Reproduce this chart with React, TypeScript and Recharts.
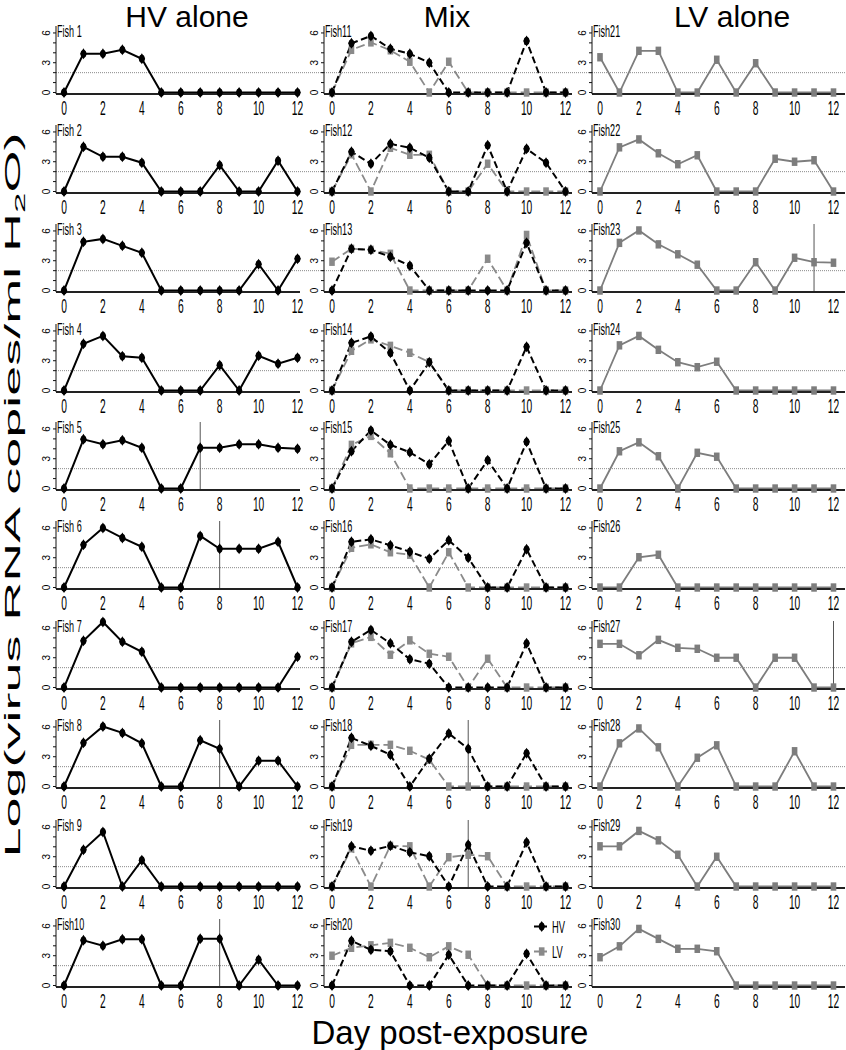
import React from 'react';
import { LineChart, Line, XAxis, YAxis, ReferenceLine, Legend } from 'recharts';

// ---------- data ----------
const DAYS = [0, 1, 2, 3, 4, 5, 6, 7, 8, 9, 10, 11, 12];
const X_TICKS = [0, 2, 4, 6, 8, 10, 12];
const Y_TICKS = [0, 1, 2, 3, 4, 5, 6];
const Y_LABELED = [0, 3, 6];
const DETECTION_LIMIT = 2;
const COLUMN_TITLES = ['HV alone', 'Mix', 'LV alone'];

const HV_NAMES = ['Fish 1', 'Fish 2', 'Fish 3', 'Fish 4', 'Fish 5', 'Fish 6', 'Fish 7', 'Fish 8', 'Fish 9', 'Fish10'];
const MIX_NAMES = ['Fish11', 'Fish12', 'Fish13', 'Fish14', 'Fish15', 'Fish16', 'Fish17', 'Fish18', 'Fish19', 'Fish20'];
const LV_NAMES = ['Fish21', 'Fish22', 'Fish23', 'Fish24', 'Fish25', 'Fish26', 'Fish27', 'Fish28', 'Fish29', 'Fish30'];

const HV_ALONE: number[][] = [
  [0, 3.9, 3.9, 4.3, 3.4, 0, 0, 0, 0, 0, 0, 0, 0],
  [0, 4.5, 3.5, 3.5, 2.9, 0, 0, 0, 2.65, 0, 0, 3.1, 0],
  [0, 4.9, 5.2, 4.5, 3.8, 0, 0, 0, 0, 0, 2.65, 0, 3.2],
  [0, 4.7, 5.5, 3.45, 3.3, 0, 0, 0, 2.55, 0, 3.5, 2.7, 3.3],
  [0, 4.95, 4.45, 4.85, 4.1, 0, 0, 4.1, 4.1, 4.45, 4.45, 4.1, 4.0],
  [0, 4.3, 6.0, 5.0, 4.1, 0, 0, 5.2, 3.9, 3.9, 3.9, 4.6, 0],
  [0, 4.7, 6.6, 4.6, 3.6, 0, 0, 0, 0, 0, 0, 0, 3.1],
  [0, 4.4, 6.05, 5.4, 4.35, 0, 0, 4.65, 3.8, 0, 2.6, 2.6, 0],
  [0, 3.7, 5.5, 0, 2.65, 0, 0, 0, 0, 0, 0, 0, 0],
  [0, 4.55, 4.0, 4.65, 4.65, 0, 0, 4.7, 4.7, 0, 2.6, 0, 0],
];

const MIX_HV: number[][] = [
  [0, 4.95, 5.7, 4.4, 3.9, 3.0, 0, 0, 0, 0, 5.2, 0, 0],
  [0, 4.0, 2.8, 4.8, 4.4, 3.4, 0, 0, 4.65, 0, 4.3, 2.9, 0],
  [0, 4.2, 4.1, 3.4, 2.5, 0, 0, 0, 0, 0, 4.8, 0, 0],
  [0, 4.8, 5.45, 3.8, 0, 2.85, 0, 0, 0, 0, 4.4, 0, 0],
  [0, 3.75, 5.85, 4.4, 3.65, 2.45, 4.8, 0, 2.85, 0, 4.7, 0, 0],
  [0, 4.6, 4.85, 4.25, 3.6, 2.9, 4.75, 3.0, 0, 0, 3.85, 0, 0],
  [0, 4.6, 5.8, 4.45, 2.85, 2.4, 0, 0, 0, 0, 4.45, 0, 0],
  [0, 4.9, 4.1, 3.2, 0, 2.8, 5.35, 3.8, 0, 0, 3.35, 0, 0],
  [0, 4.05, 3.6, 4.1, 3.45, 3.05, 0, 4.2, 0, 0, 4.45, 0, 0],
  [0, 4.5, 3.6, 3.45, 0, 0, 3.1, 0, 0, 0, 3.2, 0, 0],
];

const MIX_LV: number[][] = [
  [0, 4.3, 5.05, 4.25, 3.1, 0, 3.1, 0, 0, 0, 0, 0, 0],
  [0, 3.75, 0, 4.4, 3.7, 3.7, 0, 0, 2.8, 0, 0, 0, 0],
  [2.9, 4.2, 4.1, 3.7, 0, 0, 0, 0, 3.2, 0, 5.6, 0, 0],
  [0, 4.0, 5.15, 4.5, 3.8, 2.85, 0, 0, 0, 0, 0, 0, 0],
  [0, 4.4, 5.3, 3.55, 0, 0, 0, 0, 0, 0, 0, 0, 0],
  [0, 4.0, 4.35, 3.55, 3.3, 0, 3.55, 0, 0, 0, 0, 0, 0],
  [0, 4.45, 5.1, 3.3, 4.75, 3.4, 3.1, 0, 2.9, 0, 0, 0, 0],
  [0, 4.2, 4.2, 4.2, 3.6, 2.7, 0, 0, 0, 0, 0, 0, 0],
  [0, 3.85, 0, 4.1, 4.05, 0, 2.95, 3.2, 3.05, 0, 0, 0, 0],
  [3.0, 3.8, 4.05, 4.3, 3.8, 2.85, 3.95, 3.1, 0, 0, 0, 0, 0],
];

const LV_ALONE: number[][] = [
  [3.55, 0, 4.2, 4.2, 0, 0, 3.3, 0, 2.95, 0, 0, 0, 0],
  [0, 4.45, 5.25, 3.85, 2.75, 3.65, 0, 0, 0, 3.3, 3.0, 3.15, 0],
  [0, 4.8, 6.05, 4.65, 3.65, 2.6, 0, 0, 2.85, 0, 3.3, 2.85, 2.8],
  [0, 4.55, 5.5, 4.1, 2.85, 2.35, 2.9, 0, 0, 0, 0, 0, 0],
  [0, 3.75, 4.65, 3.25, 0, 3.6, 3.2, 0, 0, 0, 0, 0, 0],
  [0, 0, 3.05, 3.3, 0, 0, 0, 0, 0, 0, 0, 0, 0],
  [4.4, 4.4, 3.25, 4.8, 4.0, 3.9, 3.0, 3.0, 0, 3.0, 3.0, 0, 0],
  [0, 4.35, 5.85, 3.95, 0, 2.9, 4.15, 0, 0, 0, 3.55, 0, 0],
  [4.05, 4.05, 5.6, 4.65, 3.2, 0, 3.0, 0, 0, 0, 0, 0, 0],
  [2.85, 3.95, 5.7, 4.7, 3.7, 3.7, 3.45, 0, 0, 0, 0, 0, 0],
];

const HV_VLINES: (number | null)[] = [null, null, null, null, 7, 8, null, 8, null, 8];
const MIX_VLINES: (number | null)[] = [null, null, null, null, null, null, null, 7, 7, null];
const LV_VLINES: (number | null)[] = [null, null, 11, null, null, null, 12, null, null, null];

// ---------- layout ----------
const FONT = '"Liberation Sans", Arial, sans-serif';
const COL_AXIS_X = [56, 324, 592];
const COL_RIGHT = [300, 572, 845];
const ROW_BASE = [94.3, 192.7, 292, 391.7, 490.3, 589.3, 689, 788.3, 887.7, 987.3];
const YW = 25;
const SPAN = 233.5;
const PX_PER_DAY = SPAN / 12;
const HV_COLOR = '#000000';
const LV_COLOR = '#7d7d7d';
const LV_MIX_COLOR = '#8a8a8a';

const Diamond = ({ cx, cy, fill = HV_COLOR }: any) => (
  <g>
    <path d={`M${cx},${cy - 5.5}L${cx + 3.3},${cy}L${cx},${cy + 5.5}L${cx - 3.3},${cy}Z`} fill={fill} />
    <ellipse cx={cx} cy={cy} rx={2.9} ry={3.9} fill={fill} />
  </g>
);

const Square = ({ cx, cy, fill = LV_COLOR }: any) => (
  <rect x={cx - 2.8} y={cy - 4.2} width={5.6} height={8.4} fill={fill} />
);

const XTick = (props: any) => {
  const { x, y, payload } = props;
  return (
    <g transform={`translate(${x},${y})`}>
      <text transform="scale(0.5,1)" x={0} y={21.5} textAnchor="middle" fontSize={20.5} fill="#000" fontFamily={FONT}>
        {payload.value}
      </text>
    </g>
  );
};

const YTick = (props: any) => {
  const { x, y, payload } = props;
  if (!Y_LABELED.includes(payload.value)) return <g />;
  const bx = x - 3.2;
  return (
    <text x={bx} y={y} transform={`rotate(-90 ${bx} ${y})`} textAnchor="middle" fontSize={10} fill="#000" fontFamily={FONT}>
      {payload.value}
    </text>
  );
};

const MixLegend = () => (
  <svg width={44} height={44} style={{ display: 'block', overflow: 'visible' }}>
    <line x1={1} y1={9.5} x2={17} y2={9.5} stroke={HV_COLOR} strokeWidth={2} strokeDasharray="5 3" />
    <Diamond cx={8.7} cy={9.5} />
    <text transform="translate(19,15.5) scale(0.55,1)" fontSize={17} fontFamily={FONT} fill="#000">HV</text>
    <line x1={1} y1={34.5} x2={17} y2={34.5} stroke={LV_MIX_COLOR} strokeWidth={2} strokeDasharray="5 3" />
    <Square cx={8.7} cy={34.5} fill={LV_MIX_COLOR} />
    <text transform="translate(19,40.5) scale(0.55,1)" fontSize={17} fontFamily={FONT} fill="#000">LV</text>
  </svg>
);

type PanelProps = {
  col: number;
  row: number;
  hv?: number[];
  lv?: number[];
  vline: number | null;
  legend?: boolean;
};

const Panel = ({ col, row, hv, lv, vline, legend }: PanelProps) => {
  const axisX = COL_AXIS_X[col];
  const base = ROW_BASE[row];
  const plotW = COL_RIGHT[col] - axisX;
  const extra = col < 2 ? COL_AXIS_X[col + 1] - COL_RIGHT[col] : 0;
  const width = YW + plotW + extra;
  const day0 = axisX + 8;
  const dotStart = (axisX - day0) / PX_PER_DAY;
  const dotEnd = ((col < 2 ? COL_AXIS_X[col + 1] : 846) - day0) / PX_PER_DAY;
  const data = DAYS.map((d, i) => ({ day: d, hv: hv ? hv[i] : undefined, lv: lv ? lv[i] : undefined }));
  const dashed = col === 1;
  return (
    <div style={{ position: 'absolute', left: axisX - YW, top: base - 75 }}>
      <LineChart width={width} height={107} data={data} margin={{ top: 7, right: extra, bottom: 7, left: 0 }}>
        <XAxis
          dataKey="day"
          type="number"
          domain={[0, 12]}
          ticks={X_TICKS}
          interval={0}
          padding={{ left: 8, right: plotW - 8 - SPAN }}
          height={25}
          tickSize={0}
          tickMargin={0}
          tickLine={false}
          axisLine={{ stroke: '#222', strokeWidth: 2 }}
          tick={XTick}
        />
        <YAxis
          type="number"
          domain={[-0.15, 6.7]}
          ticks={Y_TICKS}
          interval={0}
          width={YW}
          tickSize={3}
          tickMargin={0}
          axisLine={{ stroke: '#111', strokeWidth: 1 }}
          tickLine={{ stroke: '#111', strokeWidth: 1 }}
          tick={YTick}
        />
        <ReferenceLine
          segment={[{ x: dotStart, y: DETECTION_LIMIT }, { x: dotEnd, y: DETECTION_LIMIT }]}
          stroke="#8a8a8a"
          strokeWidth={1}
          strokeDasharray="1 1"
          ifOverflow="visible"
        />
        {vline != null && <ReferenceLine x={vline} stroke="#555" strokeWidth={1} ifOverflow="visible" />}
        {lv && (
          <Line
            dataKey="lv"
            stroke={dashed ? LV_MIX_COLOR : LV_COLOR}
            strokeWidth={1.8}
            strokeDasharray={dashed ? '9 4' : undefined}
            dot={(p: any) => <Square key={`lv${p.index}`} cx={p.cx} cy={p.cy} fill={dashed ? LV_MIX_COLOR : LV_COLOR} />}
            activeDot={false}
            isAnimationActive={false}
          />
        )}
        {hv && (
          <Line
            dataKey="hv"
            stroke={HV_COLOR}
            strokeWidth={2}
            strokeDasharray={dashed ? '7 3.5' : undefined}
            dot={(p: any) => <Diamond key={`hv${p.index}`} cx={p.cx} cy={p.cy} />}
            activeDot={false}
            isAnimationActive={false}
          />
        )}
        {legend && (
          <Legend
            layout="vertical"
            align="center"
            verticalAlign="middle"
            wrapperStyle={{ left: 234, top: 5, width: 44, height: 44 }}
            content={MixLegend}
          />
        )}
      </LineChart>
    </div>
  );
};

export default function App() {
  const panels: React.ReactNode[] = [];
  for (let r = 0; r < 10; r++) {
    panels.push(<Panel key={`a${r}`} col={0} row={r} hv={HV_ALONE[r]} vline={HV_VLINES[r]} />);
    panels.push(<Panel key={`b${r}`} col={1} row={r} hv={MIX_HV[r]} lv={MIX_LV[r]} vline={MIX_VLINES[r]} legend={r === 9} />);
    panels.push(<Panel key={`c${r}`} col={2} row={r} lv={LV_ALONE[r]} vline={LV_VLINES[r]} />);
  }
  const names = [HV_NAMES, MIX_NAMES, LV_NAMES];
  const titleX = [187, 447, 732];
  return (
    <div style={{ position: 'absolute', left: 0, top: 0, width: 846, height: 1050, background: '#fff', overflow: 'hidden' }}>
      {panels}
      <svg width={846} height={1050} style={{ position: 'absolute', left: 0, top: 0, pointerEvents: 'none' }}>
        {COLUMN_TITLES.map((t, i) => (
          <text key={t} x={titleX[i]} y={26.5} textAnchor="middle" fontSize={30} fontFamily={FONT} fill="#000">
            {t}
          </text>
        ))}
        {names.map((col, c) =>
          col.map((n, r) => (
            <text
              key={n}
              transform={`translate(${COL_AXIS_X[c] + 1},${ROW_BASE[r] - 57}) scale(0.55,1)`}
              fontSize={16.5}
              fontFamily={FONT}
              fill="#000"
            >
              {n}
            </text>
          ))
        )}
        <text x={450} y={1044} textAnchor="middle" fontSize={33} fontFamily={FONT} fill="#000">
          Day post-exposure
        </text>
        <text
          x={20}
          y={495}
          transform="rotate(-90 20 495)"
          textAnchor="middle"
          fontSize={22}
          fontFamily={FONT}
          fill="#000"
          textLength={725}
          lengthAdjust="spacingAndGlyphs"
        >
          Log(virus RNA copies/ml H<tspan dy={5} fontSize={15}>2</tspan><tspan dy={-5}>O)</tspan>
        </text>
      </svg>
    </div>
  );
}
